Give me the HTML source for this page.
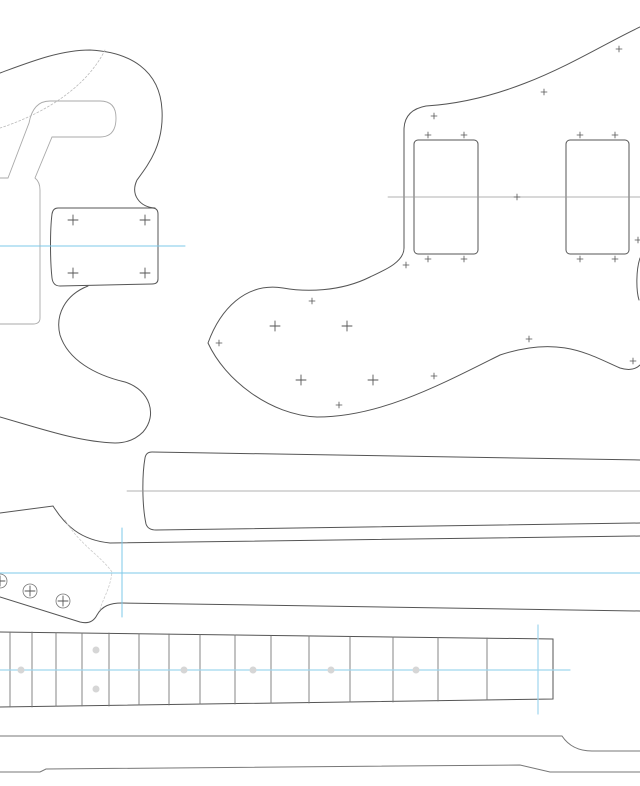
<!DOCTYPE html>
<html><head><meta charset="utf-8"><style>html,body{margin:0;padding:0;background:#fff}svg{display:block}</style></head>
<body>
<svg width="640" height="786" viewBox="0 0 640 786" xmlns="http://www.w3.org/2000/svg" fill="none" stroke-linecap="round">
<defs>
<g id="c" stroke="#555" stroke-width="0.8"><path d="M-3,0H3M0,-3V3"/></g>
<g id="C" stroke="#555" stroke-width="0.9"><path d="M-5,0H5M0,-5V5"/></g>
</defs>
<!-- body left -->
<g stroke="#555" stroke-width="1">
<path d="M0,73 C30,62 60,50 90,50 C130,52 160,70 162,110 C164,145 148,165 137,180 C130,195 140,207 155,208"/>
<path d="M88,286 C65,295 55,315 60,335 C68,360 95,375 125,382 C150,390 158,415 143,432 C135,440 125,443 115,443 C80,442 45,430 0,417"/>
<path d="M58,208 L152,208 Q158,208 158,214 L158,279 Q158,284 152,284 L60,286 Q53,286 52,278 C50,260 50,230 52,214 Q53,208 58,208Z"/>
</g>
<g stroke="#aaa" stroke-width="0.9">
<path d="M0,178 L8,178 L29,123 Q33,101 50,101 L100,101 Q116,101 116,118 Q116,137 100,137 L52,137 L35,178 Q40,182 40,190 L40,318 Q40,324 33,324 L0,324"/>
</g>
<path d="M0,128 C40,115 85,90 105,50" stroke="#bbb" stroke-width="0.8" stroke-dasharray="2,2"/>
<line x1="0" y1="246" x2="185" y2="246" stroke="#7cc8e8" stroke-width="1"/>
<use href="#C" x="73" y="220"/><use href="#C" x="145" y="220"/><use href="#C" x="73" y="273"/><use href="#C" x="145" y="273"/>
<!-- pickguard -->
<g stroke="#555" stroke-width="1">
<path d="M640,27 C590,50 520,100 426,106 Q404,110 404,130 L404,248 C404,262 385,270 370,277 C340,292 305,292 283,288 C245,282 220,310 208,343 C225,380 270,415 317,417 C380,417 440,385 500,355 C560,335 590,355 620,368 Q633,372 640,365"/>
<path d="M640,258 C636,270 636,290 639,300"/>
<rect x="414" y="140" width="64" height="114" rx="4"/>
<rect x="566" y="140" width="63" height="114" rx="4"/>
</g>
<line x1="388" y1="197" x2="640" y2="197" stroke="#999" stroke-width="0.8"/>
<g>
<use href="#c" x="434" y="116"/><use href="#c" x="544" y="92"/><use href="#c" x="619" y="49"/>
<use href="#c" x="428" y="135"/><use href="#c" x="464" y="135"/><use href="#c" x="580" y="135"/><use href="#c" x="615" y="135"/>
<use href="#c" x="428" y="259"/><use href="#c" x="464" y="259"/><use href="#c" x="580" y="259"/><use href="#c" x="615" y="259"/>
<use href="#c" x="517" y="197"/><use href="#c" x="406" y="265"/><use href="#c" x="638" y="240"/>
<use href="#c" x="312" y="301"/><use href="#c" x="219" y="343"/><use href="#c" x="434" y="376"/><use href="#c" x="529" y="339"/>
<use href="#c" x="339" y="405"/><use href="#c" x="633" y="361"/>
<use href="#C" x="275" y="326"/><use href="#C" x="347" y="326"/><use href="#C" x="301" y="380"/><use href="#C" x="373" y="380"/>
</g>
<!-- neck top view -->
<path d="M640,460 L152,452 Q146,452 145,458 C142,475 142,505 146,524 Q148,530 156,530 L640,523" stroke="#555" stroke-width="1"/>
<line x1="127" y1="491" x2="640" y2="491" stroke="#999" stroke-width="0.8"/>
<!-- headstock -->
<g stroke="#555" stroke-width="1">
<path d="M0,513 L53,506 C65,525 80,540 110,543 L640,536"/>
<path d="M0,597 L80,622 Q92,625 97,615 C102,606 110,603 122,603 L640,611"/>
</g>
<path d="M65,520 C80,545 100,555 112,572 C110,590 102,600 100,610" stroke="#ccc" stroke-width="0.8" stroke-dasharray="2,2"/>
<g stroke="#777" stroke-width="0.8"><circle cx="0" cy="581" r="7"/><circle cx="30" cy="591" r="7"/><circle cx="63" cy="601" r="7"/></g>
<use href="#C" x="30" y="591"/><use href="#C" x="63" y="601"/><use href="#C" x="0" y="581"/>
<line x1="0" y1="573" x2="640" y2="573" stroke="#7cc8e8" stroke-width="1"/>
<line x1="122" y1="528" x2="122" y2="617" stroke="#7cc8e8" stroke-width="1"/>
<!-- fretboard -->
<path d="M0,632 L553,639 L553,699 L0,707" stroke="#555" stroke-width="1"/>
<g stroke="#777" stroke-width="0.9">
<line x1="10" y1="632" x2="10" y2="707"/><line x1="32" y1="632" x2="32" y2="707"/><line x1="56" y1="633" x2="56" y2="706"/><line x1="82" y1="633" x2="82" y2="706"/><line x1="109" y1="633" x2="109" y2="706"/><line x1="139" y1="634" x2="139" y2="705"/><line x1="169" y1="634" x2="169" y2="705"/><line x1="200" y1="635" x2="200" y2="704"/><line x1="235" y1="635" x2="235" y2="704"/><line x1="271" y1="636" x2="271" y2="703"/><line x1="309" y1="636" x2="309" y2="703"/><line x1="350" y1="637" x2="350" y2="702"/><line x1="393" y1="637" x2="393" y2="702"/><line x1="438" y1="638" x2="438" y2="701"/><line x1="487" y1="638" x2="487" y2="700"/>
</g>
<line x1="0" y1="670" x2="570" y2="670" stroke="#9fd6ee" stroke-width="1.2"/>
<line x1="538" y1="625" x2="538" y2="714" stroke="#9fd6ee" stroke-width="1.2"/>
<g fill="#d6d6d6"><circle cx="21" cy="670" r="3.5"/><circle cx="184" cy="670" r="3.5"/><circle cx="253" cy="670" r="3.5"/><circle cx="331" cy="670" r="3.5"/><circle cx="416" cy="670" r="3.5"/><circle cx="96" cy="650" r="3.5"/><circle cx="96" cy="689" r="3.5"/></g>
<!-- neck side profile -->
<g stroke="#777" stroke-width="1">
<path d="M0,736 L562,736 C568,745 578,751 592,751 L640,751"/>
<path d="M0,772 L40,772 L46,769 L520,765 L550,772 L640,772"/>
</g>
</svg>
</body></html>
